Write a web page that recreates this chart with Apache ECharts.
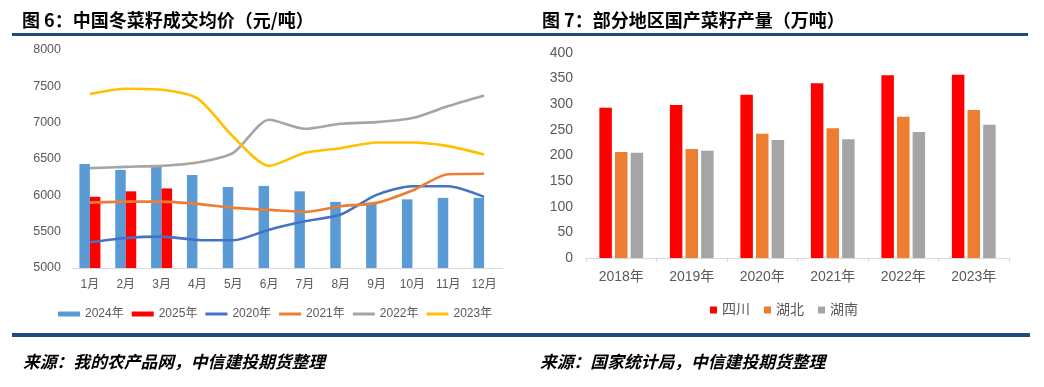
<!DOCTYPE html>
<html>
<head>
<meta charset="utf-8">
<script src="https://cdn.jsdelivr.net/npm/echarts@6/dist/echarts.min.js"></script>
<style>html,body{margin:0;padding:0;background:#fff;}#c{width:1044px;height:387px;}</style>
</head>
<body>
<div id="c"></div>
<script>
var months = ['1月','2月','3月','4月','5月','6月','7月','8月','9月','10月','11月','12月'];
var y2024 = [6430, 6350, 6390, 6280, 6115, 6130, 6055, 5910, 5900, 5945, 5965, 5965];
var y2025 = [5980, 6055, 6095, null, null, null, null, null, null, null, null, null];
var y2020 = [5355, 5413, 5432, 5386, 5381, 5528, 5643, 5735, 6006, 6126, 6126, 5979];
var y2021 = [5900, 5914, 5914, 5882, 5827, 5800, 5772, 5850, 5896, 6066, 6291, 6296];
var y2022 = [6374, 6392, 6406, 6452, 6585, 7040, 6916, 6985, 7007, 7063, 7228, 7375];
var y2023 = [7394, 7467, 7453, 7334, 6806, 6406, 6585, 6649, 6727, 6727, 6677, 6562];

var years = ['2018年','2019年','2020年','2021年','2022年','2023年'];
var sichuan = [293, 298.5, 318.7, 340.8, 356.4, 357.7];
var hubei = [207, 212.7, 242.6, 253, 275.8, 288.8];
var hunan = [205.5, 209.4, 230.2, 231.5, 245.9, 260.2];

var title1 = '图 6：中国冬菜籽成交均价（元/吨）';
var title2 = '图 7：部分地区国产菜籽产量（万吨）';
var source1 = '来源：我的农产品网，中信建投期货整理';
var source2 = '来源：国家统计局，中信建投期货整理';

var FF = '"Liberation Sans", "Noto Sans CJK SC", sans-serif';
var CJK = '"Noto Sans CJK SC", sans-serif';
var gray = '#595959';
var lineIcon = 'path://M0,0 L22,0 L22,3 L0,3 Z';

var chart = echarts.init(document.getElementById('c'), null, {renderer: 'canvas'});

function lineSeries(name, data, color) {
  return {
    name: name, type: 'line', xAxisIndex: 0, yAxisIndex: 0, data: data,
    symbol: 'none', smooth: 0.25,
    lineStyle: {color: color, width: 2.6},
    itemStyle: {color: color}
  };
}

chart.setOption({
  animation: false,
  backgroundColor: '#fff',
  graphic: [
    {type: 'rect', shape: {x: 12, y: 33, width: 1016, height: 3}, style: {fill: '#24497b'}},
    {type: 'rect', shape: {x: 12, y: 333, width: 1018, height: 4}, style: {fill: '#24497b'}},
    {type: 'text', style: {x: 22, y: 20, text: title1, font: 'bold 18px ' + CJK, fill: '#000', textVerticalAlign: 'middle', verticalAlign: 'middle'}},
    {type: 'text', style: {x: 542, y: 20, text: title2, font: 'bold 18px ' + CJK, fill: '#000', textVerticalAlign: 'middle', verticalAlign: 'middle'}},
    {type: 'text', style: {x: 23, y: 362, text: source1, font: 'italic bold 16.8px ' + CJK, fill: '#000', textVerticalAlign: 'middle', verticalAlign: 'middle'}},
    {type: 'text', style: {x: 540, y: 362, text: source2, font: 'italic bold 16.8px ' + CJK, fill: '#000', textVerticalAlign: 'middle', verticalAlign: 'middle'}}
  ],
  grid: [
    {left: 72, right: 542, top: 50, bottom: 119},
    {left: 586, right: 35, top: 53, bottom: 129}
  ],
  legend: [
    {
      left: 53, top: 303, itemWidth: 22, itemHeight: 5, itemGap: 8,
      textStyle: {color: gray, fontSize: 12, fontFamily: FF},
      data: [
        {name: '2024年', icon: 'rect'}, {name: '2025年', icon: 'rect'},
        {name: '2020年', icon: lineIcon}, {name: '2021年', icon: lineIcon},
        {name: '2022年', icon: lineIcon}, {name: '2023年', icon: lineIcon}
      ]
    },
    {
      left: 705, top: 298, itemWidth: 7, itemHeight: 7, itemGap: 14, icon: 'rect',
      textStyle: {color: gray, fontSize: 14, fontFamily: FF},
      data: ['四川', '湖北', '湖南']
    }
  ],
  xAxis: [
    {
      type: 'category', gridIndex: 0, data: months,
      axisLine: {lineStyle: {color: '#d9d9d9', width: 1}},
      axisTick: {show: false},
      axisLabel: {color: gray, fontSize: 12, fontFamily: FF, margin: 11}
    },
    {
      type: 'category', gridIndex: 1, data: years,
      axisLine: {lineStyle: {color: '#d9d9d9', width: 1}},
      axisTick: {show: true, length: 4, lineStyle: {color: '#d9d9d9'}},
      axisLabel: {color: gray, fontSize: 14, fontFamily: FF, margin: 12}
    }
  ],
  yAxis: [
    {
      type: 'value', gridIndex: 0, min: 5000, max: 8000, interval: 500,
      axisLine: {show: false}, axisTick: {show: false}, splitLine: {show: false},
      axisLabel: {color: gray, fontSize: 12.5, fontFamily: FF, margin: 11, formatter: function (v) { return String(v); }}
    },
    {
      type: 'value', gridIndex: 1, min: 0, max: 400, interval: 50,
      axisLine: {show: false}, axisTick: {show: false}, splitLine: {show: false},
      axisLabel: {color: gray, fontSize: 14, fontFamily: FF, margin: 13, formatter: function (v) { return String(v); }}
    }
  ],
  series: [
    {name: '2024年', type: 'bar', xAxisIndex: 0, yAxisIndex: 0, data: y2024, barWidth: 10.5, barGap: '0%', itemStyle: {color: '#5B9BD5'}},
    {name: '2025年', type: 'bar', xAxisIndex: 0, yAxisIndex: 0, data: y2025, barWidth: 10.5, barGap: '0%', itemStyle: {color: '#FF0000'}},
    lineSeries('2020年', y2020, '#4472C4'),
    lineSeries('2021年', y2021, '#ED7D31'),
    lineSeries('2022年', y2022, '#A5A5A5'),
    lineSeries('2023年', y2023, '#FFC000'),
    {name: '四川', type: 'bar', xAxisIndex: 1, yAxisIndex: 1, data: sichuan, barWidth: 12.5, barGap: '25%', itemStyle: {color: '#FF0000'}},
    {name: '湖北', type: 'bar', xAxisIndex: 1, yAxisIndex: 1, data: hubei, barWidth: 12.5, barGap: '25%', itemStyle: {color: '#ED7D31'}},
    {name: '湖南', type: 'bar', xAxisIndex: 1, yAxisIndex: 1, data: hunan, barWidth: 12.5, barGap: '25%', itemStyle: {color: '#A5A5A5'}}
  ]
});
</script>
</body>
</html>
